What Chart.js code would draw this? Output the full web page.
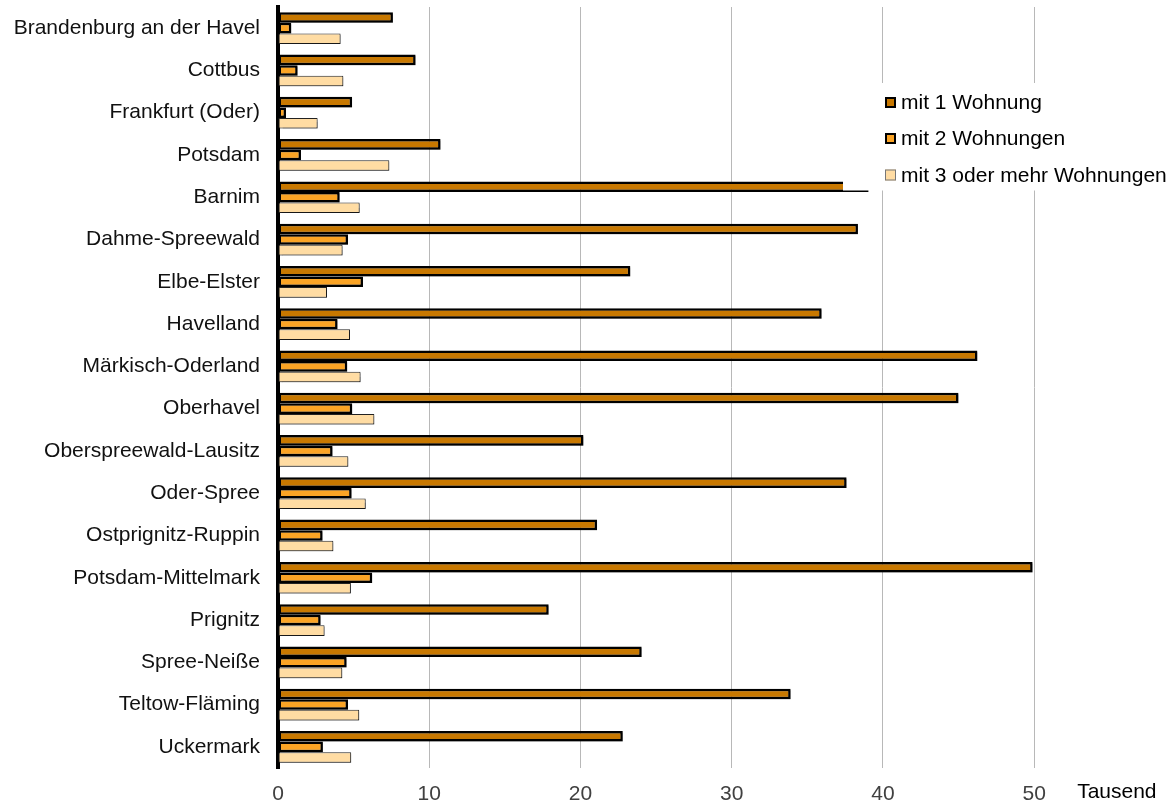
<!DOCTYPE html>
<html>
<head>
<meta charset="utf-8">
<script src="https://cdn.jsdelivr.net/npm/chart.js@4"></script>
<style>
html,body{margin:0;padding:0;background:#fff;}
canvas{display:block;}
</style>
</head>
<body>
<canvas id="c" width="1176" height="808"></canvas>
<script>
const categories = ["Brandenburg an der Havel","Cottbus","Frankfurt (Oder)","Potsdam","Barnim","Dahme-Spreewald","Elbe-Elster","Havelland","Märkisch-Oderland","Oberhavel","Oberspreewald-Lausitz","Oder-Spree","Ostprignitz-Ruppin","Potsdam-Mittelmark","Prignitz","Spree-Neiße","Teltow-Fläming","Uckermark"];
const seriesNames = ["mit 1 Wohnung","mit 2 Wohnungen","mit 3 oder mehr Wohnungen"];
const mit1 = [7.6, 9.1, 4.9, 10.75, 39.05, 38.35, 23.3, 35.95, 46.25, 45.0, 20.2, 37.6, 21.1, 49.9, 17.9, 24.05, 33.9, 22.8];
const mit2 = [0.88, 1.3, 0.53, 1.52, 4.08, 4.63, 5.62, 3.94, 4.58, 4.91, 3.61, 4.87, 2.95, 6.23, 2.82, 4.54, 4.63, 2.97];
const mit3 = [4.14, 4.32, 2.62, 7.36, 5.4, 4.27, 3.24, 4.76, 5.46, 6.37, 4.65, 5.8, 3.66, 4.82, 3.08, 4.25, 5.37, 4.84];
const xTicks = [0, 10, 20, 30, 40, 50];
const unitLabel = "Tausend";

const FONT = "'Liberation Sans', Arial, sans-serif";
const fills = ["#C87800", "#FBA425", "#FFDCA3"];
const borders = ["#000000", "#000000", "#222222"];
const borderWidths = [2.5, 2.5, 1];

const shadowPlugin = {
  id: 'shadow',
  beforeDatasetsDraw(chart) {
    const ctx = chart.ctx;
    ctx.save();
    ctx.shadowColor = 'rgba(0,0,0,0.3)';
    ctx.shadowOffsetX = 1;
    ctx.shadowOffsetY = 1.5;
    ctx.shadowBlur = 1;
  },
  afterDatasetsDraw(chart) {
    chart.ctx.restore();
  }
};

const overlayPlugin = {
  id: 'overlay',
  afterDatasetsDraw(chart) {
    const ctx = chart.ctx;
    const xs = chart.scales.x;
    const ca = chart.chartArea;
    ctx.save();
    // legend box (white, covering part of plot)
    ctx.fillStyle = '#ffffff';
    ctx.fillRect(843, 83, chart.width - 843, 107.5);
    const items = [102.5, 138.5, 175];
    ctx.font = "21px " + FONT;
    ctx.textBaseline = 'middle';
    ctx.textAlign = 'left';
    items.forEach((yc, i) => {
      ctx.fillStyle = fills[i];
      ctx.fillRect(885, yc - 5.5, 11, 11);
      ctx.strokeStyle = i < 2 ? '#000' : '#777';
      ctx.lineWidth = i < 2 ? 2 : 1;
      ctx.strokeRect(885 + ctx.lineWidth / 2, yc - 5.5 + ctx.lineWidth / 2, 11 - ctx.lineWidth, 11 - ctx.lineWidth);
      ctx.fillStyle = '#000';
      ctx.fillText(seriesNames[i], 901, yc + 1);
    });
    // unit label
    ctx.fillStyle = '#000';
    ctx.textBaseline = 'alphabetic';
    ctx.fillText(unitLabel, xs.getPixelForValue(50) + 43, ca.bottom + 30);
    ctx.restore();
  }
};

new Chart(document.getElementById('c'), {
  type: 'bar',
  data: {
    labels: categories,
    datasets: [mit1, mit2, mit3].map((d, i) => ({
      label: seriesNames[i],
      data: d,
      backgroundColor: fills[i],
      borderColor: borders[i],
      borderWidth: borderWidths[i],
      borderSkipped: false,
      categoryPercentage: 0.75,
      barPercentage: 1.0
    }))
  },
  options: {
    indexAxis: 'y',
    responsive: false,
    animation: false,
    layout: { padding: { top: 7, right: 36, bottom: 0, left: 0 } },
    plugins: { legend: { display: false }, tooltip: { enabled: false } },
    scales: {
      x: {
        min: 0,
        max: 57,
        afterBuildTicks(scale) { scale.ticks = xTicks.map(v => ({ value: v })); },
        afterFit(scale) { scale.height = 40; },
        ticks: {
          includeBounds: false,
          padding: 14,
          color: '#404040',
          font: { family: FONT, size: 21 }
        },
        grid: {
          drawTicks: false,
          color: ctx => (ctx.tick && ctx.tick.value === 0) ? 'rgba(0,0,0,0)' : '#b8b8b8',
          lineWidth: 1
        },
        border: { display: false }
      },
      y: {
        afterFit(scale) {
          scale.width = 278;
          scale.paddingTop = 0;
          scale.paddingBottom = 0;
        },
        ticks: {
          autoSkip: false,
          padding: 18,
          color: '#111111',
          font: { family: FONT, size: 21 }
        },
        grid: { display: false, drawTicks: false },
        border: { display: true, color: '#000000', width: 4 }
      }
    }
  },
  plugins: [shadowPlugin, overlayPlugin]
});
</script>
</body>
</html>
